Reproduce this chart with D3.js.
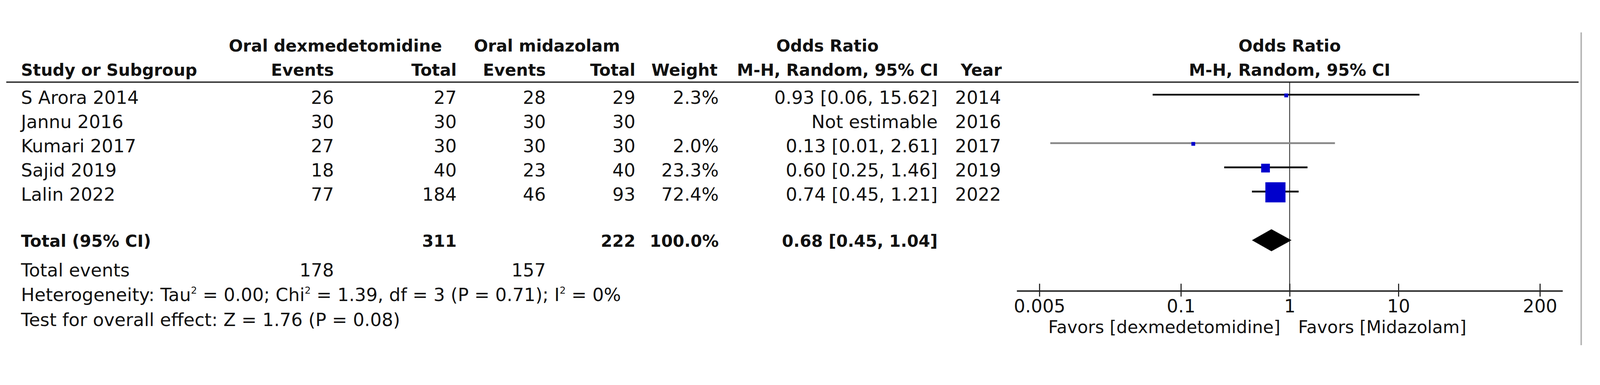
<!DOCTYPE html>
<html>
<head>
<meta charset="utf-8">
<title>Forest plot: oral dexmedetomidine vs oral midazolam</title>
<script src="https://cdn.jsdelivr.net/npm/d3@7"></script>
<style>
  html, body { margin: 0; padding: 0; background: #fff; overflow: hidden; }
  svg { display: block; width: 100vw; height: auto; }
  text { font-family: "DejaVu Sans", Verdana, sans-serif; fill: #111; }
</style>
</head>
<body>
<div id="chart"></div>
<script>
// study rows
const studies   = ["S Arora 2014", "Jannu 2016", "Kumari 2017", "Sajid 2019", "Lalin 2022"];
const dexEvents = [26, 30, 27, 18, 77];
const dexTotal  = [27, 30, 30, 40, 184];
const midEvents = [28, 30, 30, 23, 46];
const midTotal  = [29, 30, 30, 40, 93];
const weights   = [2.3, null, 2.0, 23.3, 72.4];
const orEst     = [0.93, null, 0.13, 0.60, 0.74];
const orLow     = [0.055, null, 0.0063, 0.25, 0.45];
const orHigh    = [15.62, null, 2.61, 1.46, 1.21];
const orText    = ["0.93 [0.06, 15.62]", "Not estimable", "0.13 [0.01, 2.61]", "0.60 [0.25, 1.46]", "0.74 [0.45, 1.21]"];
const years     = [2014, 2016, 2017, 2019, 2022];
const ciGray    = [false, false, true, false, false];

// pooled
const pooledOR   = [0.68, 0.45, 1.04];   // estimate, low, high
const pooledText = "0.68 [0.45, 1.04]";
const totalN     = [311, 222];
const totalEv    = [178, 157];

const tickVals   = [0.005, 0.1, 1, 10, 200];
const tickLabels = ["0.005", "0.1", "1", "10", "200"];

const W = 4341, H = 986;
const svg = d3.select("#chart").append("svg")
  .attr("viewBox", `0 0 ${W} ${H}`)
  .attr("preserveAspectRatio", "xMinYMin meet");

const x = d3.scaleLog().domain([0.005, 200]).range([2820, 4178]);
const rowY = d3.scaleLinear().domain([0, 4]).range([257, 520]);
const boxSize = d3.scaleLinear().domain([0, 100]).range([9, 72]);

const BOLD = 45, REG = 49;

function txt(xp, yp, s, anchor, bold, size) {
  return svg.append("text")
    .attr("x", xp).attr("y", yp)
    .attr("text-anchor", anchor || "start")
    .style("font-weight", bold ? "bold" : "normal")
    .style("font-size", (size || (bold ? BOLD : REG)) + "px")
    .text(s);
}

// column right edges
const col = { study: 57, dexEv: 906, dexTot: 1239, midEv: 1481, midTot: 1724, weight: 1950, or: 2544, year: 2716 };

// headers
txt(910, 140, "Oral dexmedetomidine", "middle", true);
txt(1484, 140, "Oral midazolam", "middle", true);
txt(2245, 140, "Odds Ratio", "middle", true);
txt(x(1), 140, "Odds Ratio", "middle", true);
txt(col.study, 206, "Study or Subgroup", "start", true);
txt(col.dexEv, 206, "Events", "end", true);
txt(col.dexTot, 206, "Total", "end", true);
txt(col.midEv, 206, "Events", "end", true);
txt(col.midTot, 206, "Total", "end", true);
txt(col.weight - 3, 206, "Weight", "end", true);
txt(col.or + 2, 206, "M-H, Random, 95% CI", "end", true);
txt(col.year + 2, 206, "Year", "end", true);
txt(x(1), 206, "M-H, Random, 95% CI", "middle", true);

// header rule
svg.append("line")
  .attr("x1", 17).attr("x2", 4283).attr("y1", 223).attr("y2", 223)
  .attr("stroke", "#333").attr("stroke-width", 4);

// right border
svg.append("line")
  .attr("x1", 4290).attr("x2", 4290).attr("y1", 88).attr("y2", 937)
  .attr("stroke", "#b3b3b3").attr("stroke-width", 4);

// study rows text
studies.forEach((s, i) => {
  const yb = rowY(i) + 25;
  txt(col.study, yb, s, "start");
  txt(col.dexEv, yb, dexEvents[i], "end");
  txt(col.dexTot, yb, dexTotal[i], "end");
  txt(col.midEv, yb, midEvents[i], "end");
  txt(col.midTot, yb, midTotal[i], "end");
  if (weights[i] != null) txt(col.weight, yb, weights[i].toFixed(1) + "%", "end");
  txt(col.or, yb, orText[i], "end");
  txt(col.year, yb, years[i], "end");
});

// total rows
const totY = 670;
txt(col.study, totY, "Total (95% CI)", "start", true);
txt(col.dexTot, totY, totalN[0], "end", true);
txt(col.midTot, totY, totalN[1], "end", true);
txt(col.weight, totY, "100.0%", "end", true);
txt(col.or, totY, pooledText, "end", true);

txt(col.study, 750, "Total events", "start");
txt(col.dexEv, 750, totalEv[0], "end");
txt(col.midEv, 750, totalEv[1], "end");

const het = txt(col.study, 817, "", "start");
[["Heterogeneity: Tau", 0], ["2", 1], [" = 0.00; Chi", 0], ["2", 1], [" = 1.39, df = 3 (P = 0.71); I", 0], ["2", 1], [" = 0%", 0]]
  .forEach(([s, sup]) => {
    het.append("tspan")
      .attr("dy", sup ? -20 : (s.startsWith("H") ? 0 : 20))
      .style("font-size", sup ? "26px" : REG + "px")
      .text(s);
  });
txt(col.study, 885, "Test for overall effect: Z = 1.76 (P = 0.08)", "start");

// null line
svg.append("line")
  .attr("x1", x(1)).attr("x2", x(1)).attr("y1", 223).attr("y2", 790)
  .attr("stroke", "#111").attr("stroke-width", 2);

// CI lines and boxes
const idx = studies.map((d, i) => i).filter(i => orEst[i] != null);
svg.append("g").selectAll("line").data(idx).join("line")
  .attr("x1", i => x(orLow[i])).attr("x2", i => x(orHigh[i]))
  .attr("y1", i => rowY(i)).attr("y2", i => rowY(i))
  .attr("stroke", i => ciGray[i] ? "#8a8a8a" : "#111")
  .attr("stroke-width", 5);
svg.append("g").selectAll("rect").data(idx).join("rect")
  .attr("x", i => x(orEst[i]) - boxSize(weights[i]) / 2)
  .attr("y", i => rowY(i) - boxSize(weights[i]) / 2 + 2)
  .attr("width", i => boxSize(weights[i]))
  .attr("height", i => boxSize(weights[i]))
  .attr("fill", "#0000cc");

// pooled diamond
const dy = 652, dh = 30;
svg.append("path")
  .attr("d", d3.line()([
    [x(pooledOR[1]), dy], [x(pooledOR[0]), dy - dh],
    [x(pooledOR[2]), dy], [x(pooledOR[0]), dy + dh]
  ]) + "Z")
  .attr("fill", "#000");

// axis
const axisY = 790;
svg.append("line")
  .attr("x1", 2759).attr("x2", 4240).attr("y1", axisY).attr("y2", axisY)
  .attr("stroke", "#222").attr("stroke-width", 4);
const ax = svg.append("g").attr("transform", `translate(0,${axisY})`)
  .call(d3.axisBottom(x).tickValues(tickVals)
    .tickFormat((d, i) => tickLabels[i]).tickSize(0).tickPadding(0));
ax.select(".domain").remove();
ax.selectAll(".tick line")
  .attr("y1", -20).attr("y2", 15)
  .attr("stroke", "#222").attr("stroke-width", 3);
ax.selectAll(".tick text")
  .attr("y", 58).attr("dy", null)
  .style("font-family", "DejaVu Sans, sans-serif")
  .style("font-size", REG + "px").attr("fill", "#111");

txt(x(1) - 25, 904, "Favors [dexmedetomidine]", "end", false, 47);
txt(x(1) + 23, 904, "Favors [Midazolam]", "start", false, 47);
</script>
</body>
</html>
